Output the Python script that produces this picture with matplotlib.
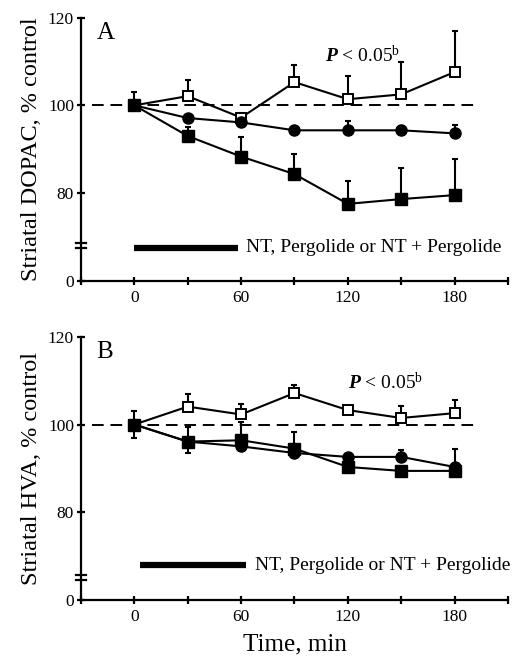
import numpy as np
import matplotlib
matplotlib.use("Agg")
import matplotlib.pyplot as plt

plt.rcParams['font.family'] = ['Liberation Serif', 'DejaVu Serif']
plt.rcParams['mathtext.fontset'] = 'custom'
plt.rcParams['mathtext.rm'] = 'Liberation Serif'
plt.rcParams['mathtext.it'] = 'Liberation Serif:italic:bold'

# time points (min)
time_min = [0, 30, 60, 90, 120, 150, 180]

# Panel A: striatal DOPAC, % control
dopac_open = [100, 102.1, 97.2, 105.3, 101.4, 102.5, 107.6]
dopac_open_up = [3.0, 3.6, 1.0, 3.8, 5.2, 7.5, 9.4]
dopac_circ = [100, 97.1, 96.1, 94.3, 94.3, 94.3, 93.6]
dopac_circ_up = [0, 0, 0, 0, 2.1, 0.9, 1.9]
dopac_sq = [100, 93.0, 88.3, 84.3, 77.5, 78.6, 79.5]
dopac_sq_up = [0, 2.0, 4.5, 4.7, 5.2, 7.2, 8.2]

# Panel B: striatal HVA, % control
hva_open = [100, 104.1, 102.3, 107.2, 103.3, 101.5, 102.6]
hva_open_up = [0, 2.9, 2.5, 1.8, 0, 2.8, 3.0]
hva_circ = [100, 96.1, 95.0, 93.5, 92.6, 92.6, 90.3]
hva_circ_up = [0, 0, 0, 0, 0, 1.6, 0]
hva_sq = [100, 96.1, 96.4, 94.5, 90.3, 89.4, 89.4]
hva_sq_up = [3.2, 3.3, 4.1, 3.9, 0, 0, 5.1]
hva_sq_lo = [3.0, 2.6, 0, 0, 0, 0, 0]

yticks = [0, 80, 100, 120]
xticks = [-30, 0, 30, 60, 90, 120, 150, 180, 210]
xlabels = ['', '0', '', '60', '', '120', '', '180', '']
treat_text = "NT, Pergolide or NT + Pergolide"
p_text = r"$P$ < 0.05$^{\rm b}$"


# broken y axis: 0-70 squeezed into the bottom strip
def fwd(y):
    y = np.asarray(y, dtype=float)
    return np.where(y >= 70, y, 60 + y / 7.0)


def inv(d):
    d = np.asarray(d, dtype=float)
    return np.where(d >= 70, d, (d - 60) * 7.0)


fig = plt.figure(figsize=(5.15, 6.57), dpi=100)
axA = fig.add_axes([0.1573, 0.573, 0.829, 0.400])
axB = fig.add_axes([0.1573, 0.0875, 0.829, 0.3995])


def panel(ax, op, op_up, ci, ci_up, sq, sq_up, sq_lo, ylab, letter, break_frac, bar_y, bar_x, p_xy):
    ax.set_yscale('function', functions=(fwd, inv))
    ax.set_xlim(-30, 210)
    ax.set_ylim(0, 120)
    for s in ['top', 'right']:
        ax.spines[s].set_visible(False)
    for s in ['left', 'bottom']:
        ax.spines[s].set_linewidth(1.6)

    ax.plot([-24, 193], [100, 100], color='black', lw=1.4, dashes=(6, 3.5), zorder=1)

    eb = dict(fmt='none', ecolor='black', elinewidth=1.5, capsize=2.2, capthick=1.5, zorder=2)
    ax.errorbar(time_min, op, yerr=[np.zeros(len(op)), op_up], **eb)
    ax.errorbar(time_min, ci, yerr=[np.zeros(len(ci)), ci_up], **eb)
    ax.errorbar(time_min, sq, yerr=[sq_lo, sq_up], **eb)

    ax.plot(time_min, op, color='black', lw=1.5, marker='s', ms=7,
            mfc='white', mec='black', mew=1.4, zorder=3)
    ax.plot(time_min, sq, color='black', lw=1.5, marker='s', ms=8,
            mfc='black', mec='black', zorder=4)
    ax.plot(time_min, ci, color='black', lw=1.5, marker='o', ms=8,
            mfc='black', mec='black', zorder=5)

    ax.set_yticks(yticks)
    ax.set_yticklabels([str(v) for v in yticks])
    ax.set_xticks(xticks)
    ax.set_xticklabels(xlabels)
    ax.yaxis.set_minor_locator(plt.NullLocator())
    ax.tick_params(axis='both', direction='inout', length=6, width=1.6,
                   labelsize=12.5, pad=2)
    ax.tick_params(axis='x', pad=4)
    ax.set_ylabel(ylab, fontsize=17.5, labelpad=4)

    # axis break marks
    for dy in (-0.009, 0.009):
        ax.plot([-0.012, 0.012], [break_frac + dy, break_frac + dy],
                transform=ax.transAxes, color='black', lw=1.6, clip_on=False)

    ax.text(0.036, 0.985, letter, transform=ax.transAxes, fontsize=18,
            va='top', ha='left')
    ax.plot(bar_x, [bar_y, bar_y], color='black', lw=4.5, solid_capstyle='butt')
    ax.text(bar_x[1] + 5, bar_y, treat_text, fontsize=14, va='center', ha='left')
    ax.text(p_xy[0], p_xy[1], p_text, fontsize=14, ha='left', va='center')


panel(axA, dopac_open, dopac_open_up, dopac_circ, dopac_circ_up, dopac_sq,
      dopac_sq_up, np.zeros(7), "Striatal DOPAC, % control", "A", 0.133,
      52.5, [0, 58], (107, 111.4))
panel(axB, hva_open, hva_open_up, hva_circ, hva_circ_up, hva_sq,
      hva_sq_up, hva_sq_lo, "Striatal HVA, % control", "B", 0.084,
      55, [3, 63], (120, 109.5))

axB.set_xlabel("Time, min", fontsize=18, labelpad=6)

fig.savefig("out.png", dpi=100)
